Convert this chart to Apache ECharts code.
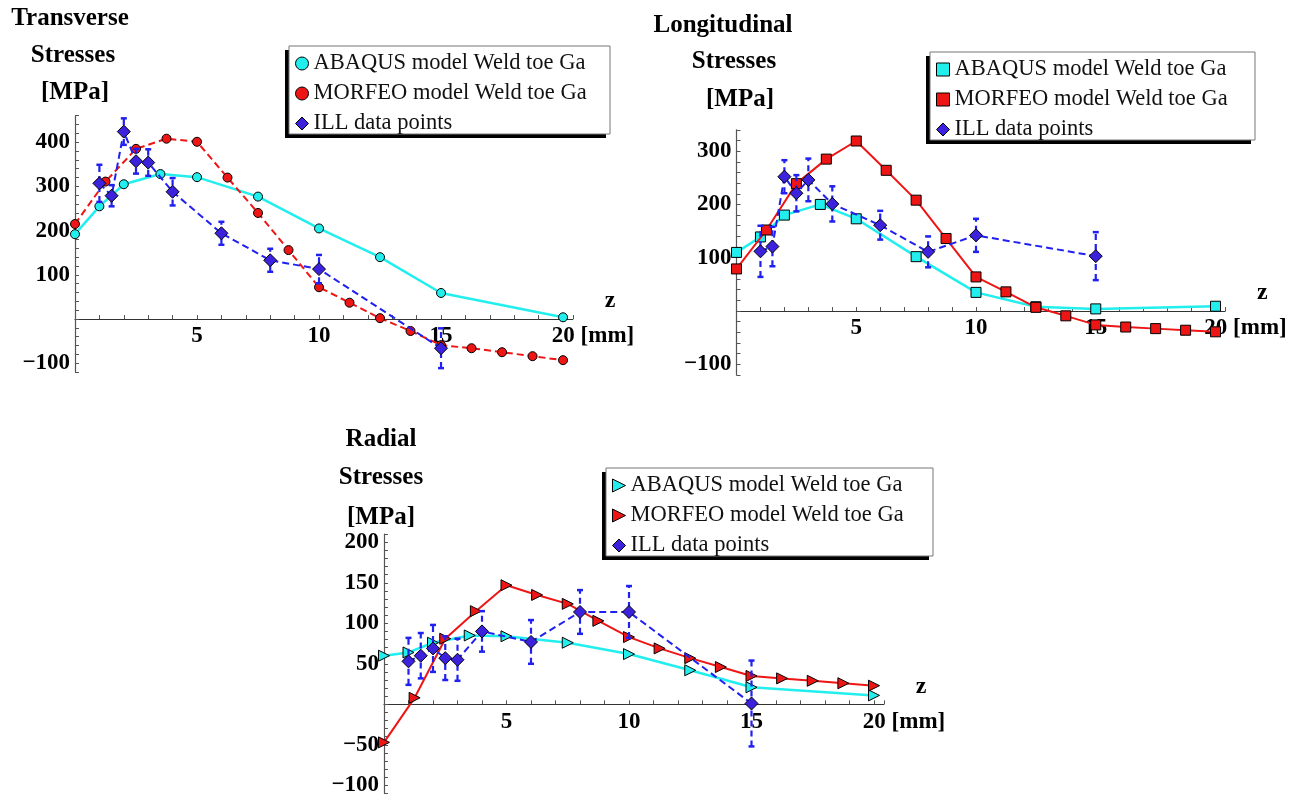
<!DOCTYPE html>
<html><head><meta charset="utf-8">
<script src="https://cdn.jsdelivr.net/npm/echarts@6/dist/echarts.min.js"></script>
<style>html,body{margin:0;padding:0;background:#fff}#c{width:1310px;height:800px}</style>
</head><body><div id="c"></div>
<script>
// ---------- DATA ----------
const seriesNames = ['ABAQUS model Weld toe Ga', 'MORFEO model Weld toe Ga', 'ILL data points'];
const zAbaqus = [0, 1, 2, 3.5, 5, 7.5, 10, 12.5, 15, 20];
const zMorfeo = [0, 1.25, 2.5, 3.75, 5, 6.25, 7.5, 8.75, 10, 11.25, 12.5, 13.75, 15, 16.25, 17.5, 18.75, 20];
const zIll = [1, 1.5, 2, 2.5, 3, 4, 6, 8, 10, 15];

// Transverse
const abaqusT = [192, 255, 305, 328, 321, 277, 205, 140, 59, 4];
const morfeoT = [215, 311, 385, 408, 401, 320, 240, 156, 72, 37, 2, -27, -59, -66, -75, -84, -93];
const illT = [307, 279, 424, 357, 354, 288, 194, 133, 113, -66];
const illErrT = [42, 24, 30, 28, 30, 31, 26, 26, 32, 45];

// Longitudinal
const abaqusL = [110, 139, 180, 200, 173, 102, 35, 8, 4, 9];
const morfeoL = [79, 152, 239, 285, 319, 264, 208, 136, 64, 36, 7, -9, -26, -30, -33, -36, -39];
const illL = [112, 121, 252, 221, 246, 201, 161, 111, 142, 103];
const illErrL = [48, 37, 31, 34, 40, 33, 27, 29, 31, 45];

// Radial
const abaqusR = [60, 64, 76, 85, 84, 76, 62, 42, 21, 11];
const morfeoR = [-47, 8, 81, 115, 147, 135, 124, 103, 83, 69, 57, 46, 35, 32, 29, 26, 23];
const illR = [53, 60, 69, 57, 55, 90, 77, 114, 114, 1];
const illErrR = [29, 28, 29, 27, 26, 25, 27, 27, 32, 53];

const titlesT = ['Transverse', 'Stresses', '[MPa]'];
const titlesL = ['Longitudinal', 'Stresses', '[MPa]'];
const titlesR = ['Radial', 'Stresses', '[MPa]'];
const xTickLabels = [5, 10, 15, 20];

// ---------- STYLE ----------
const FONT = '"Liberation Serif","Times New Roman",serif';
const CYAN = '#22eeee', RED = '#ee1515', BLUE = '#2020f0', DIAM = '#3d22dd';
const TRI = 'path://M0,0L10,5L0,10Z';

const zip = (xs, ys) => xs.map((x, i) => [x, ys[i]]);
const errData = (vals, errs) => zIll.map((z, i) => [z, vals[i] - errs[i], vals[i] + errs[i]]);
const fmtNum = v => (v < 0 ? '\u2212' + Math.abs(v) : String(v));

const grids = [
  { left: 75, top: 115.7, width: 497.8, height: 256.4 },
  { left: 736.5, top: 129.8, width: 488.6, height: 245.2 },
  { left: 384, top: 534.2, width: 499.8, height: 259.2 }
];
const yCfg = [
  { min: -120, max: 460, interval: 20, major: 100 },
  { min: -120, max: 340, interval: 20, major: 100 },
  { min: -110, max: 210, interval: 10, major: 50 }
];

const xAxes = grids.map((g, i) => ({
  type: 'value', gridIndex: i, min: 0, max: 20.4, interval: 1, position: 'bottom',
  offset: -g.height * (0 - yCfg[i].min) / (yCfg[i].max - yCfg[i].min),
  name: 'z', nameLocation: 'end', nameGap: 32,
  nameTextStyle: { fontFamily: FONT, fontWeight: 'bold', fontSize: 24, color: '#000', verticalAlign: 'bottom', padding: [0, 0, 6, 0] },
  axisLine: { onZero: false, lineStyle: { color: '#333', width: 1.2 } },
  axisTick: { inside: true, length: 4, lineStyle: { color: '#555' } },
  splitLine: { show: false },
  axisLabel: {
    margin: 6, color: '#000', fontFamily: FONT, fontWeight: 'bold', fontSize: 23,
    formatter: v => {
      if (v === 20) return '{p|}{a|20}{m| [mm]}';
      return xTickLabels.indexOf(v) >= 0 ? String(v) : '';
    },
    rich: {
      p: { width: 60 },
      a: { fontFamily: FONT, fontWeight: 'bold', fontSize: 23, color: '#000' },
      m: { fontFamily: FONT, fontWeight: 'bold', fontSize: 23, color: '#000' }
    }
  }
}));
const yAxes = yCfg.map((c, i) => ({
  type: 'value', gridIndex: i, min: c.min, max: c.max, interval: c.interval,
  axisLine: { show: true, onZero: true, lineStyle: { color: '#555', width: 1.2 } },
  axisTick: { show: true, inside: true, length: 4, lineStyle: { color: '#555' } },
  splitLine: { show: false },
  axisLabel: {
    margin: 5, color: '#000', fontFamily: FONT, fontWeight: 'bold', fontSize: 23,
    formatter: v => (v % c.major === 0 && v !== 0 ? fmtNum(v) : '')
  }
}));

function renderErr(params, api) {
  const x = api.value(0), lo = api.value(1), hi = api.value(2);
  const a = api.coord([x, lo]), b = api.coord([x, hi]);
  const ls = { stroke: BLUE, lineWidth: 2.2, lineDash: [6, 4], fill: null };
  const cs = { stroke: BLUE, lineWidth: 2.5, fill: null };
  return {
    type: 'group', children: [
      { type: 'line', shape: { x1: a[0], y1: a[1], x2: b[0], y2: b[1] }, style: ls },
      { type: 'line', shape: { x1: a[0] - 3, y1: a[1], x2: a[0] + 3, y2: a[1] }, style: cs },
      { type: 'line', shape: { x1: b[0] - 3, y1: b[1], x2: b[0] + 3, y2: b[1] }, style: cs }
    ]
  };
}

const plotDefs = [
  { abq: abaqusT, mor: morfeoT, ill: illT, err: illErrT, sym: 'circle', size: 9, morDash: true },
  { abq: abaqusL, mor: morfeoL, ill: illL, err: illErrL, sym: 'rect', size: 10, morDash: false },
  { abq: abaqusR, mor: morfeoR, ill: illR, err: illErrR, sym: TRI, size: 11, morDash: false }
];

const series = [];
plotDefs.forEach((p, i) => {
  series.push({
    type: 'line', name: seriesNames[0], xAxisIndex: i, yAxisIndex: i, data: zip(zAbaqus, p.abq),
    symbol: p.sym, symbolSize: p.size, showAllSymbol: true,
    itemStyle: { color: CYAN, borderColor: '#000', borderWidth: 1 },
    lineStyle: { color: CYAN, width: 2.5 }, z: 2
  });
  series.push({
    type: 'line', name: seriesNames[1], xAxisIndex: i, yAxisIndex: i, data: zip(zMorfeo, p.mor),
    symbol: p.sym, symbolSize: p.size, showAllSymbol: true,
    itemStyle: { color: RED, borderColor: '#000', borderWidth: 1 },
    lineStyle: { color: RED, width: 2, type: p.morDash ? [7, 4] : 'solid' }, z: 3
  });
  series.push({
    type: 'custom', name: 'err' + i, xAxisIndex: i, yAxisIndex: i, data: errData(p.ill, p.err),
    renderItem: renderErr, encode: { x: 0, y: [1, 2] }, z: 4, silent: true
  });
  series.push({
    type: 'line', name: seriesNames[2], xAxisIndex: i, yAxisIndex: i, data: zip(zIll, p.ill),
    symbol: 'diamond', symbolSize: 13, showAllSymbol: true,
    itemStyle: { color: DIAM, borderColor: '#000', borderWidth: 1 },
    lineStyle: { color: BLUE, width: 2, type: [7, 4] }, z: 5
  });
});

// legend boxes (x, y, w, h)
const legendBoxes = [[289, 46, 321, 88], [930, 52, 325, 88], [606, 468, 327, 88]];
const legends = plotDefs.map((p, i) => ({
  orient: 'vertical', left: legendBoxes[i][0] + 6, top: legendBoxes[i][1] + 6,
  padding: 0, itemGap: 7, itemWidth: 13, itemHeight: 13,
  backgroundColor: 'transparent', borderWidth: 0,
  selectedMode: false, z: 10,
  textStyle: { fontFamily: FONT, fontSize: 22.5, color: '#111' },
  data: [
    { name: seriesNames[0], icon: p.sym, itemStyle: { color: CYAN, borderColor: '#000', borderWidth: 1 } },
    { name: seriesNames[1], icon: p.sym, itemStyle: { color: RED, borderColor: '#000', borderWidth: 1 } },
    { name: seriesNames[2], icon: 'diamond', itemStyle: { color: DIAM, borderColor: '#000', borderWidth: 1 } }
  ]
}));

function titleTexts(lines, pos) {
  return lines.map((t, k) => ({
    type: 'text', x: pos[k][0], y: pos[k][1],
    style: { text: t, fill: '#000', font: 'bold 25px ' + FONT, align: 'center', verticalAlign: 'middle' }
  }));
}
function boxRects(b) {
  return [
    { type: 'rect', z: 8, shape: { x: b[0] - 4, y: b[1] + 4, width: b[2], height: b[3] }, style: { fill: '#000' } },
    { type: 'rect', z: 9, shape: { x: b[0], y: b[1], width: b[2], height: b[3] }, style: { fill: '#fff', stroke: '#777', lineWidth: 1 } }
  ];
}
const graphic = [].concat(
  titleTexts(titlesT, [[70, 19], [73, 56], [75, 93]]),
  titleTexts(titlesL, [[723, 26], [734, 62], [740, 100]]),
  titleTexts(titlesR, [[381, 440], [381, 478], [381, 518]]),
  boxRects(legendBoxes[0]), boxRects(legendBoxes[1]), boxRects(legendBoxes[2])
);

const chart = echarts.init(document.getElementById('c'), null, { renderer: 'canvas' });
chart.setOption({
  animation: false,
  backgroundColor: '#fff',
  grid: grids,
  xAxis: xAxes,
  yAxis: yAxes,
  legend: legends,
  series: series,
  graphic: graphic
});
</script></body></html>
